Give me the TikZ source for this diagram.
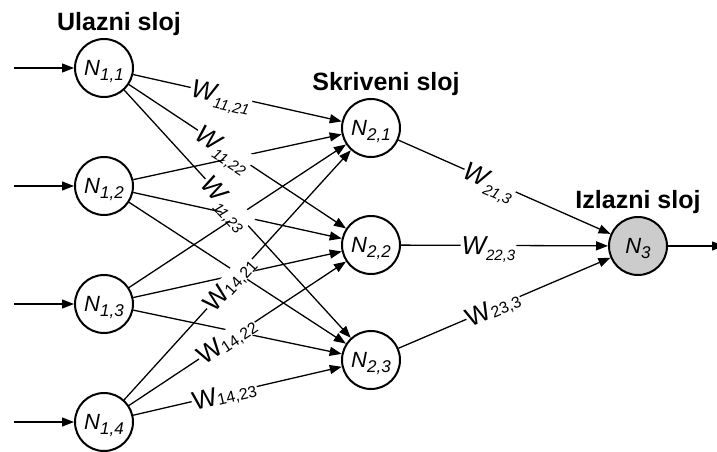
\documentclass[tikz,border=0pt]{standalone}
\usepackage{fontspec}
\setmainfont{Liberation Sans}
\usetikzlibrary{arrows.meta,calc}
\newcommand{\wit}[1]{{\fontsize{26}{26}\selectfont\itshape W}{\fontsize{15}{15}\selectfont\itshape\smash{\raisebox{-6pt}{#1}}}}
\newcommand{\wup}[1]{{\fontsize{26}{26}\selectfont W}{\fontsize{16}{16}\selectfont\smash{\raisebox{-1pt}{#1}}}}
\newcommand{\nlab}[1]{{\fontsize{22}{22}\selectfont\itshape N}{\fontsize{17}{17}\selectfont\itshape\smash{\raisebox{-5pt}{#1}}}}
\tikzset{
  neuron/.style={circle,draw=black,line width=2pt,minimum size=58pt,inner sep=0pt,fill=white},
  outneuron/.style={neuron,fill=black!20},
  edge/.style={line width=1.3pt,-{Triangle[length=12pt,width=9pt]}},
  wlab/.style={sloped,fill=white,inner sep=1pt},
  title/.style={font=\fontsize{25}{25}\selectfont\bfseries,anchor=base}
}
\begin{document}
\begin{tikzpicture}[x=1pt,y=-1pt]
\useasboundingbox (0,0) rectangle (717,452);
% nodes
\node[neuron] (N11) at (104,68) {\nlab{1,1}};
\node[neuron] (N12) at (104,186) {\nlab{1,2}};
\node[neuron] (N13) at (104,304) {\nlab{1,3}};
\node[neuron] (N14) at (104,422) {\nlab{1,4}};
\node[neuron] (N21) at (371,128) {\nlab{2,1}};
\node[neuron] (N22) at (371,245) {\nlab{2,2}};
\node[neuron] (N23) at (371,360) {\nlab{2,3}};
\node[outneuron] (N3) at (638,246) {\nlab{3}};
% titles
\node[title] (t1) at (119,31) {Ulazni sloj};
\node[title] (t2) at (386,90) {Skriveni sloj};
\node[title] (t3) at (638,208) {Izlazni sloj};
% inputs / output
\coordinate (i1) at (14,68);
\coordinate (i2) at (14,186);
\coordinate (i3) at (14,304);
\coordinate (i4) at (14,422);
\coordinate (o) at (724,246);
\draw[edge] (i1) -- (N11);
\draw[edge] (i2) -- (N12);
\draw[edge] (i3) -- (N13);
\draw[edge] (i4) -- (N14);
\draw[edge] (N3) -- (o);
% hidden connections
\foreach \a in {11,12,13,14}{
  \foreach \b in {21,22,23}{
    \draw[edge] (N\a) -- (N\b);
  }
}
\draw[edge] (N21) -- (N3);
\draw[edge] (N22) -- (N3);
\draw[edge] (N23) -- (N3);
% weight labels
\path (N11.center) -- (N21.center) node[wlab,pos=0.44] (w1121) {\wit{11,21}};
\path (N11.center) -- (N22.center) node[wlab,pos=0.45] (w1122) {\wit{11,22}};
\path (N11.center) -- (N23.center) node[wlab,pos=0.46] (w1123) {\wit{11,23}};
\path (N14.center) -- (N21.center) node[wlab,pos=0.47] (w1421) {\wup{14,21}};
\path (N14.center) -- (N22.center) node[wlab,pos=0.46] (w1422) {\wup{14,22}};
\path (N14.center) -- (N23.center) node[wlab,pos=0.45] (w1423) {\wup{14,23}};
\path (N21.center) -- (N3.center) node[wlab,pos=0.446] (w213) {\wit{21,3}};
\path (N22.center) -- (N3.center) node[wlab,pos=0.44] (w223) {\wit{22,3}};
\path (N23.center) -- (N3.center) node[wlab,pos=0.457] (w233) {\wup{23,3}};
\end{tikzpicture}
\end{document}
